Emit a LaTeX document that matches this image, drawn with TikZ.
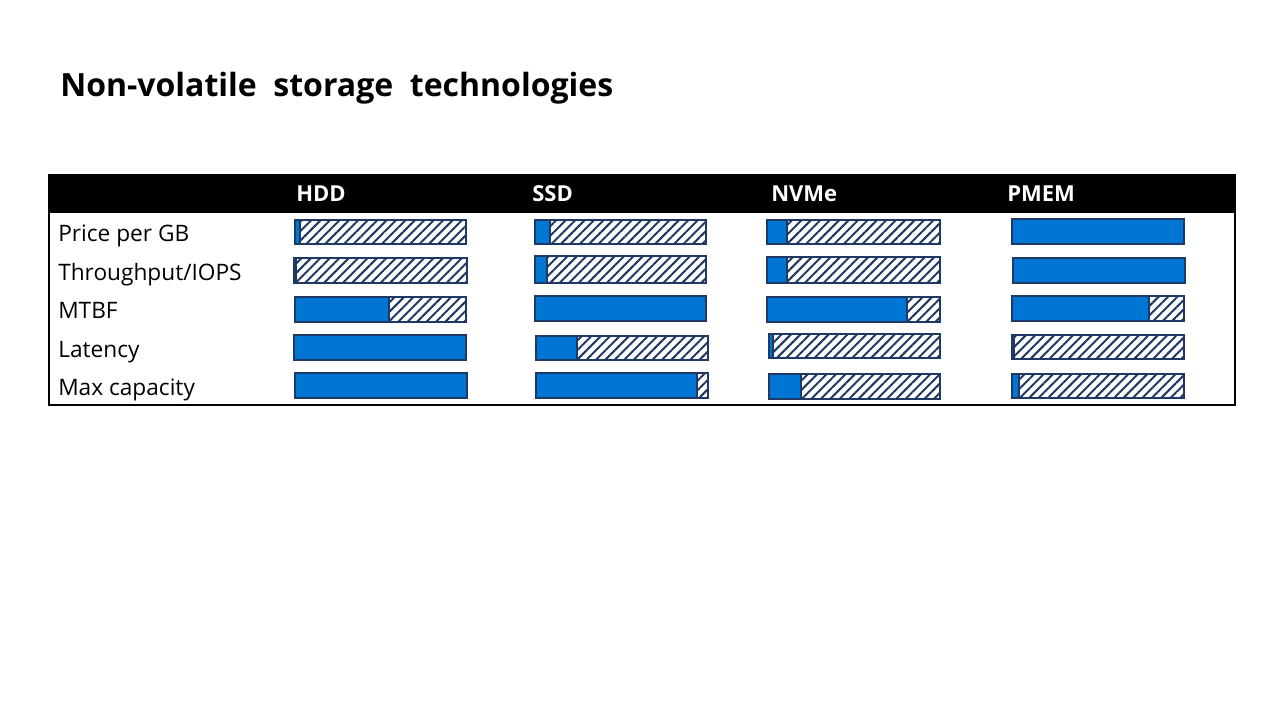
\documentclass[tikz,border=0pt]{standalone}
\usepackage{fontspec}
\setmainfont{Open Sans}
\usetikzlibrary{patterns.meta}
\definecolor{msblue}{RGB}{0,118,212}
\definecolor{navy}{RGB}{31,56,100}
\begin{document}
\begin{tikzpicture}[x=0.75pt,y=-0.75pt,
		hatchbar/.style={draw=navy,line width=0.9pt,pattern={Lines[angle=45,distance=5pt,line width=1.5pt]},pattern color=navy},
		fullbar/.style={draw=navy,line width=0.9pt,fill=msblue},
		rowlabel/.style={anchor=base west,inner sep=0pt,font=\fontsize{17}{19}\selectfont},
		colhead/.style={anchor=base west,inner sep=0pt,text=white,font=\fontsize{16.5}{18}\selectfont\bfseries}]
	\useasboundingbox[fill=white] (0,0) rectangle (1280,720);
	% title
	\node[anchor=base west,inner sep=0pt,font=\fontsize{24}{27}\selectfont\bfseries] (title) at (60,97) {Non-volatile\ \ storage\ \ technologies};
	% table frame and header band
	\draw[line width=0.8pt] (49,175) rectangle (1235,405);
	\fill[black] (49,175) rectangle (1235,213);
	\node[colhead] (hdd) at (296,202) {HDD};
	\node[colhead] (ssd) at (532,202) {SSD};
	\node[colhead] (nvme) at (771,202) {NVMe};
	\node[colhead] (pmem) at (1007,202) {PMEM};
	% row labels
	\node[rowlabel] (price) at (58,242) {Price per GB};
	\node[rowlabel] (iops) at (58,280) {Throughput/IOPS};
	\node[rowlabel] (mtbf) at (58,318) {MTBF};
	\node[rowlabel] (latency) at (58,357) {Latency};
	\node[rowlabel] (capacity) at (58,395) {Max capacity};
	% HDD
	\draw[hatchbar] (295,220) rectangle (466,244);
	\draw[fullbar] (295,220) rectangle (300,244);
	\draw[hatchbar] (294,258) rectangle (467,283);
	\draw[fullbar] (294,258) rectangle (296,283);
	\draw[hatchbar] (295,297) rectangle (466,322);
	\draw[fullbar] (295,297) rectangle (389,322);
	\draw[fullbar] (294,335) rectangle (466,360);
	\draw[fullbar] (295,373) rectangle (467,398);
	% SSD
	\draw[hatchbar] (535,220) rectangle (706,244);
	\draw[fullbar] (535,220) rectangle (550,244);
	\draw[hatchbar] (535,256) rectangle (706,283);
	\draw[fullbar] (535,256) rectangle (547,283);
	\draw[fullbar] (535,296) rectangle (706,321);
	\draw[hatchbar] (536,336) rectangle (708,360);
	\draw[fullbar] (536,336) rectangle (577,360);
	\draw[hatchbar] (536,373) rectangle (708,398);
	\draw[fullbar] (536,373) rectangle (697,398);
	% NVMe
	\draw[hatchbar] (767,220) rectangle (940,244);
	\draw[fullbar] (767,220) rectangle (787,244);
	\draw[hatchbar] (767,257) rectangle (940,283);
	\draw[fullbar] (767,257) rectangle (787,283);
	\draw[hatchbar] (767,297) rectangle (940,322);
	\draw[fullbar] (767,297) rectangle (907,322);
	\draw[hatchbar] (769,334) rectangle (940,358);
	\draw[fullbar] (769,334) rectangle (773,358);
	\draw[hatchbar] (769,374) rectangle (940,399);
	\draw[fullbar] (769,374) rectangle (801,399);
	% PMEM
	\draw[fullbar] (1012,219) rectangle (1184,244);
	\draw[fullbar] (1013,258) rectangle (1185,283);
	\draw[hatchbar] (1012,296) rectangle (1184,321);
	\draw[fullbar] (1012,296) rectangle (1149,321);
	\draw[hatchbar] (1012,335) rectangle (1184,359);
	\draw[fullbar] (1012,335) rectangle (1014,359);
	\draw[hatchbar] (1012,374) rectangle (1184,398);
	\draw[fullbar] (1012,374) rectangle (1019,398);
\end{tikzpicture}
\end{document}
